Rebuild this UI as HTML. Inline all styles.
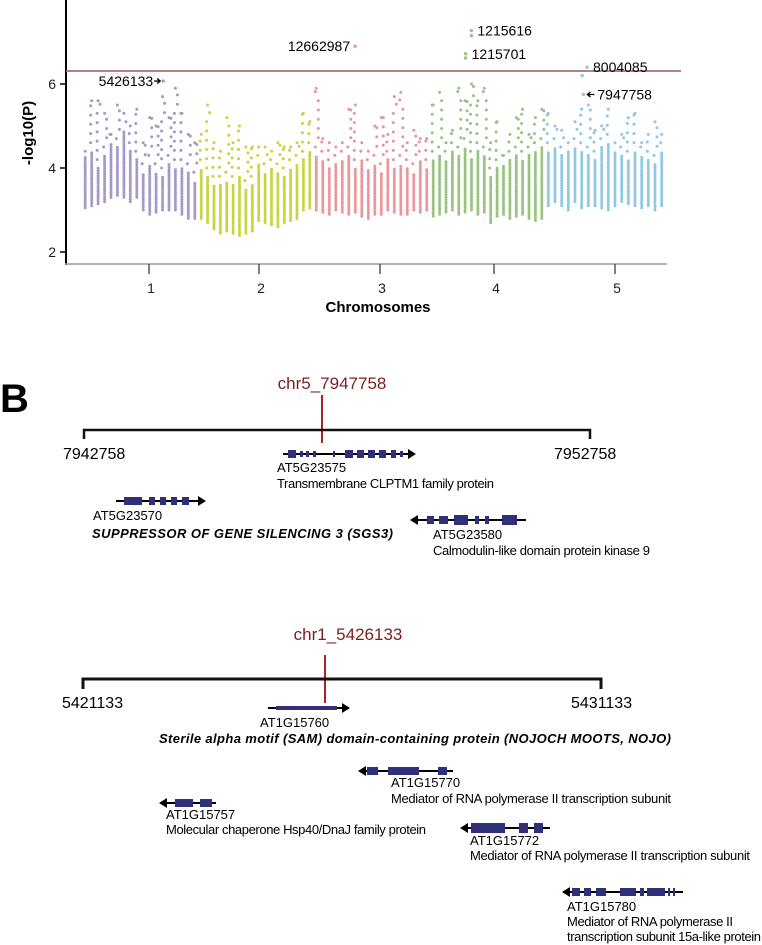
<!DOCTYPE html>
<html><head><meta charset="utf-8"><style>
html,body{margin:0;padding:0;background:#fff;}
svg{display:block;font-family:"Liberation Sans",Arial,sans-serif;}
.n{font-family:"Liberation Sans Narrow","Liberation Sans",sans-serif;}
</style></head><body>
<svg id="fig" width="762" height="945" viewBox="0 0 762 945" xmlns="http://www.w3.org/2000/svg">
<g id="manhattan"></g>
<g id="panelB">
<text x="0" y="412" font-size="40" font-weight="bold">B</text>
<!-- diagram 1 -->
<g>
<text x="332" y="389" font-size="17" fill="#7a1f1f" text-anchor="middle" class="n">chr5_7947758</text>
<line x1="322" y1="395" x2="322" y2="443" stroke="#a3262a" stroke-width="2"/>
<path d="M84 439 V430 H590 V439" fill="none" stroke="#111" stroke-width="2.5"/>
<text x="63" y="459" font-size="16">7942758</text>
<text x="554" y="459" font-size="16">7952758</text>
<g fill="#30307a">
<line x1="283" y1="454" x2="410" y2="454" stroke="#000" stroke-width="2"/><path d="M408 449 L416 454 L408 459Z" fill="#000"/>
<rect x="288" y="450" width="8" height="8"/><rect x="300" y="451" width="3" height="6"/><rect x="306" y="451" width="3" height="6"/><rect x="313" y="451" width="3" height="6"/><rect x="333" y="451" width="2" height="6"/><rect x="345" y="450" width="8" height="8"/><rect x="357" y="450" width="7" height="8"/><rect x="368" y="450" width="7" height="8"/><rect x="379" y="450" width="7" height="8"/><rect x="391" y="450" width="5" height="8"/><rect x="400" y="451" width="3" height="6"/>
</g>
<text x="277" y="472" font-size="13" class="n">AT5G23575</text>
<text x="277" y="488" font-size="13" class="n" textLength="217">Transmembrane CLPTM1 family protein</text>
<g fill="#30307a">
<line x1="116" y1="501" x2="200" y2="501" stroke="#000" stroke-width="2"/><path d="M198 496 L206 501 L198 506Z" fill="#000"/>
<rect x="124" y="497" width="18" height="8"/><rect x="149" y="497" width="6" height="8"/><rect x="160" y="497" width="6" height="8"/><rect x="171" y="497" width="6" height="8"/><rect x="182" y="497" width="7" height="8"/>
</g>
<text x="93" y="520" font-size="13" class="n">AT5G23570</text>
<text x="92" y="538" font-size="13" font-weight="bold" font-style="italic" textLength="301">SUPPRESSOR OF GENE SILENCING 3 (SGS3)</text>
<g fill="#30307a">
<line x1="416" y1="520" x2="526" y2="520" stroke="#000" stroke-width="2"/><path d="M418 515 L410 520 L418 525Z" fill="#000"/>
<rect x="427" y="516" width="7" height="8"/><rect x="439" y="516" width="9" height="8"/><rect x="454" y="515" width="14" height="10"/><rect x="475" y="516" width="4" height="8"/><rect x="485" y="516" width="4" height="8"/><rect x="502" y="515" width="15" height="10"/>
</g>
<text x="433" y="539" font-size="13" class="n">AT5G23580</text>
<text x="433" y="555" font-size="13" class="n" textLength="217">Calmodulin-like domain protein kinase 9</text>
</g>
<!-- diagram 2 -->
<g>
<text x="348" y="640" font-size="17" fill="#7a1f1f" text-anchor="middle" class="n">chr1_5426133</text>
<line x1="325" y1="655" x2="325" y2="703" stroke="#a3262a" stroke-width="2"/>
<path d="M83 689 V679 H601 V689" fill="none" stroke="#111" stroke-width="3"/>
<text x="62" y="708" font-size="16">5421133</text>
<text x="571" y="708" font-size="16">5431133</text>
<g>
<line x1="268" y1="708" x2="344" y2="708" stroke="#000" stroke-width="2"/><path d="M342 703 L350 708 L342 713Z"/>
<rect x="276" y="706" width="61" height="4" fill="#30307a"/>
</g>
<text x="260" y="727" font-size="13" class="n">AT1G15760</text>
<text x="159" y="743" font-size="13" font-weight="bold" font-style="italic" textLength="512">Sterile alpha motif (SAM) domain-containing protein (NOJOCH MOOTS, NOJO)</text>
<g fill="#30307a">
<line x1="364" y1="771" x2="453" y2="771" stroke="#000" stroke-width="2"/><path d="M366 766 L358 771 L366 776Z" fill="#000"/>
<rect x="367" y="767" width="11" height="8"/><rect x="388" y="767" width="31" height="8"/><rect x="438" y="767" width="9" height="8"/>
</g>
<text x="391" y="787" font-size="13" class="n">AT1G15770</text>
<text x="391" y="803" font-size="13" class="n" textLength="280">Mediator of RNA polymerase II transcription subunit</text>
<g fill="#30307a">
<line x1="164" y1="803" x2="216" y2="803" stroke="#000" stroke-width="2"/><path d="M167 798 L159 803 L167 808Z" fill="#000"/>
<rect x="175" y="799" width="18" height="8"/><rect x="200" y="799" width="12" height="8"/>
</g>
<text x="166" y="819" font-size="13" class="n">AT1G15757</text>
<text x="166" y="834" font-size="13" class="n" textLength="260">Molecular chaperone Hsp40/DnaJ family protein</text>
<g fill="#30307a">
<line x1="465" y1="828" x2="550" y2="828" stroke="#000" stroke-width="2"/><path d="M468 823 L460 828 L468 833Z" fill="#000"/>
<rect x="471" y="823" width="34" height="10"/><rect x="519" y="823" width="9" height="10"/><rect x="534" y="823" width="9" height="10"/>
</g>
<text x="470" y="845" font-size="13" class="n">AT1G15772</text>
<text x="470" y="860" font-size="13" class="n" textLength="280">Mediator of RNA polymerase II transcription subunit</text>
<g fill="#30307a">
<line x1="568" y1="892" x2="683" y2="892" stroke="#000" stroke-width="2"/><path d="M570 887 L562 892 L570 897Z" fill="#000"/>
<rect x="572" y="888" width="8" height="8"/><rect x="584" y="888" width="7" height="8"/><rect x="596" y="888" width="10" height="8"/><rect x="620" y="888" width="16" height="8"/><rect x="640" y="888" width="4" height="8"/><rect x="647" y="888" width="18" height="8"/><rect x="668" y="888" width="2" height="8"/><rect x="673" y="888" width="2" height="8"/>
</g>
<text x="567" y="911" font-size="13" class="n">AT1G15780</text>
<text x="567" y="926" font-size="13" class="n" textLength="166">Mediator of RNA polymerase II</text>
<text x="567" y="941" font-size="13" class="n" textLength="194">transcription subunit 15a-like protein</text>
</g>
</g>
</svg>
<script>
const chromLabels = ["1","2","3","4","5"];
const yTicks = [2, 4, 6];
const threshold = 6.31;
const colLow = [
 [3.05,3.1,3.15,3.2,3.3,3.35,3.3,3.2,3.3,3.0,2.9,2.95,3.0,3.0,3.0,2.9,2.8,2.8],
 [2.8,2.7,2.55,2.45,2.5,2.45,2.4,2.45,2.5,2.75,2.7,2.65,2.6,2.7,2.75,2.8,3.0,3.05],
 [3.0,2.95,2.9,3.0,2.95,2.9,2.95,2.85,2.8,2.9,2.9,3.0,2.95,2.9,2.9,3.0,2.95,3.0],
 [2.85,2.9,2.95,3.0,2.9,2.95,3.0,2.9,2.95,2.7,2.85,2.9,2.8,2.85,2.9,2.8,2.75,2.8],
 [3.1,3.2,3.1,3.0,3.2,3.05,3.1,3.1,3.05,3.0,3.1,3.2,3.15,3.1,3.05,3.1,3.0,3.1]];
const colDense = [
 [4.3,4.4,4.0,4.3,4.6,4.5,4.9,4.4,4.2,3.9,4.1,3.9,3.8,4.1,4.0,4.0,3.9,3.7],
 [4.0,3.8,3.6,3.6,3.7,3.6,3.8,3.5,3.6,4.1,3.9,4.0,3.9,3.8,4.0,4.1,4.2,4.4],
 [4.3,4.2,4.0,4.1,4.2,4.3,4.0,4.2,4.0,4.1,3.9,4.2,4.0,4.1,4.0,3.9,4.2,4.0],
 [4.2,4.3,4.2,4.4,4.3,4.5,4.2,4.4,4.3,3.8,4.0,4.1,4.2,4.3,4.2,4.3,4.4,4.5],
 [4.4,4.5,4.3,4.4,4.5,4.4,4.3,4.2,4.5,4.6,4.4,4.3,4.2,4.4,4.3,4.2,4.1,4.4]];
const colHigh = [
 [4.4,5.6,5.6,5.3,4.8,5.5,5.3,5.0,5.4,4.6,5.2,5.0,5.7,5.2,5.9,5.3,4.8,4.6],
 [4.8,5.5,4.6,4.4,5.2,4.6,5.0,4.5,4.5,4.5,4.5,4.4,4.6,4.5,4.5,4.6,5.3,5.1],
 [5.9,4.7,4.6,4.5,4.6,5.4,5.5,4.6,4.4,5.0,5.2,4.8,5.7,5.8,4.6,4.9,4.7,4.7],
 [5.5,5.8,4.6,4.9,5.9,5.6,6.0,5.6,5.9,4.6,5.1,4.3,4.8,5.2,5.4,4.8,5.2,5.4],
 [5.3,5.0,4.9,4.6,5.1,5.4,5.5,4.9,5.0,5.4,4.6,4.8,5.2,5.3,4.6,4.8,5.1,4.8]];
const peakChrom = [0, 2, 3, 3, 3, 3, 4, 4, 4];
const peakFrac = [0.70, 0.36, 0.36, 0.36, 0.31, 0.31, 0.35, 0.31, 0.32];
const peakVal = [6.07, 6.9, 7.27, 7.15, 6.72, 6.62, 6.4, 6.2, 5.75];
const peakLabel = ["5426133", "12662987", "1215616", "", "1215701", "", "8004085", "", "7947758"];

const NS = "http://www.w3.org/2000/svg";
const g = document.getElementById("manhattan");
const colors = ["#a797c9","#c9d240","#e9959b","#97c37f","#8ec8e2"];
const bounds = [82,198,313,430,545,665];
const tickX = [149,259,380,494,615];
function yS(v){ return 252 - (v - 2) * 42; }
function xS(c, frac){ return bounds[c] + frac * (bounds[c+1] - bounds[c]); }
function mk(tag, attrs){ const e = document.createElementNS(NS, tag); for (const k in attrs) e.setAttribute(k, attrs[k]); g.appendChild(e); return e; }

let e;
// axes
e = mk("line",{x1:66,y1:0,x2:66,y2:265,stroke:"#000","stroke-width":2});


e = mk("line",{x1:65,y1:264,x2:667,y2:264,stroke:"#999","stroke-width":1.5});


yTicks.forEach(v => {
  e = mk("line",{x1:60,y1:yS(v),x2:66,y2:yS(v),stroke:"#000","stroke-width":1.5});
  
  
  e = mk("text",{x:56,y:yS(v)+5,"font-size":14,"text-anchor":"end",fill:"#222"});
  e.textContent = String(v);
  
  
});
chromLabels.forEach((lab, i) => {
  e = mk("line",{x1:tickX[i],y1:264,x2:tickX[i],y2:274,stroke:"#555","stroke-width":1.5});
  
  
  e = mk("text",{x:tickX[i]+2,y:293,"font-size":14,"text-anchor":"middle",fill:"#222"});
  e.textContent = lab;
  
  
});
e = mk("text",{x:378,y:312,"font-size":15,"font-weight":"bold","text-anchor":"middle"});
e.textContent = "Chromosomes";


e = mk("text",{x:0,y:0,"font-size":15,"font-weight":"bold","text-anchor":"middle",transform:"translate(33,133) rotate(-90)"});
e.textContent = "-log10(P)";


// points
for (let c = 0; c < 5; c++) {
  const n = colLow[c].length;
  for (let i = 0; i < n; i++) {
    const x = xS(c, (i + 0.5) / n);
    const lo = colLow[c][i], de = colDense[c][i], hi = colHigh[c][i];
    for (let v = lo; v <= de; v += 0.06) {
      e = mk("circle",{cx:x.toFixed(1),cy:yS(v).toFixed(1),r:1.5,fill:colors[c]});
      
      
    }
    for (let v = de + 0.2; v <= hi; v += 0.22) {
      e = mk("circle",{cx:(x + ((v*10)%2 > 1 ? 2 : -1)).toFixed(1),cy:yS(v).toFixed(1),r:1.5,fill:colors[c]});
      
      
    }
    e = mk("circle",{cx:x.toFixed(1),cy:yS(hi).toFixed(1),r:1.5,fill:colors[c]});
    
    
  }
}
// threshold
e = mk("line",{x1:66,y1:yS(threshold),x2:681,y2:yS(threshold),stroke:"#a57171","stroke-width":1.8});


// peaks
peakVal.forEach((v, k) => {
  const c = peakChrom[k], x = xS(c, peakFrac[k]), y = yS(v);
  e = mk("circle",{cx:x,cy:y,r:1.7,fill:colors[c]});
  
  
  const lab = peakLabel[k];
  if (!lab) return;
  let t;
  if (lab === "5426133") {
    t = mk("text",{x:x-10,y:y+5,"font-size":14,"text-anchor":"end"});
    e = mk("path",{d:`M${x-9} ${y} H${x-3} M${x-6} ${y-2.5} L${x-3} ${y} L${x-6} ${y+2.5}`,stroke:"#000",fill:"none","stroke-width":1.3});
    
    
  } else if (lab === "12662987") {
    t = mk("text",{x:x-5,y:y+5,"font-size":14,"text-anchor":"end"});
  } else if (lab === "7947758") {
    t = mk("text",{x:x+14,y:y+5,"font-size":14});
    e = mk("path",{d:`M${x+4} ${y} H${x+11} M${x+7} ${y-2.5} L${x+4} ${y} L${x+7} ${y+2.5}`,stroke:"#000",fill:"none","stroke-width":1.3});
    
    
  } else {
    t = mk("text",{x:x+6,y:y+5,"font-size":14});
  }
  t.textContent = lab;
  
  
});
</script>
</body></html>
